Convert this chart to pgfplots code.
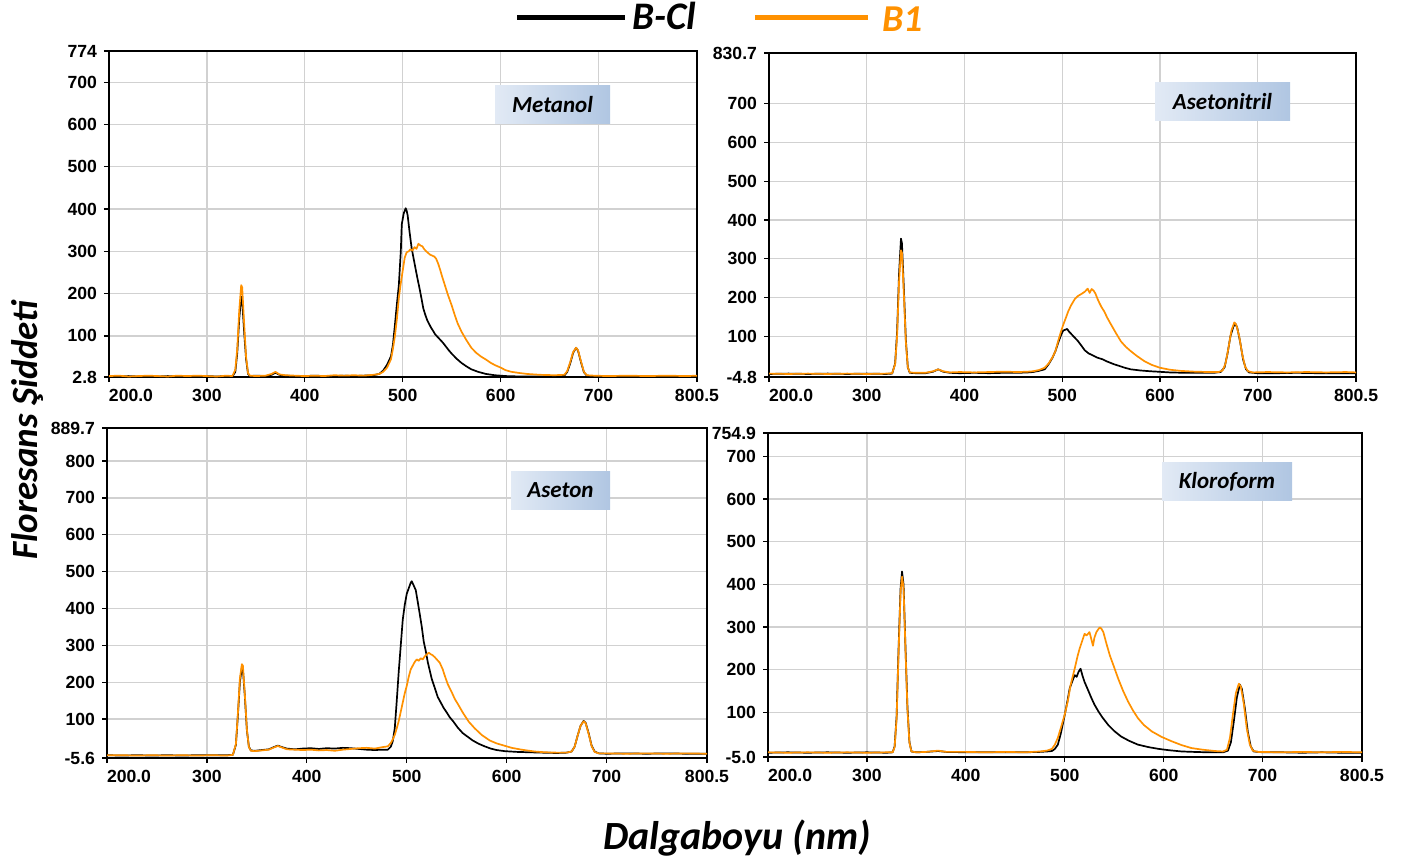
\documentclass[border=0pt]{standalone}
\usepackage{fontspec}
\setmainfont{Liberation Sans}
\newfontfamily\calfont{Carlito}
\usepackage{pgfplots}
\pgfplotsset{compat=1.18}

\definecolor{orng}{RGB}{255,145,0}
\definecolor{boxL}{RGB}{226,234,245}
\definecolor{boxR}{RGB}{176,198,226}

\pgfplotsset{
  panel/.style={
    scale only axis,
    xmin=200, xmax=800.5,
    xtick={200,300,400,500,600,700,800.5},
    xticklabels={\makebox[0pt][l]{200.0},300,400,500,600,700,800.5},
    grid=major, grid style={line width=0.6pt, black!18},
    axis line style={line width=0.9pt},
    tick align=outside, xtick pos=bottom, ytick pos=left,
    major tick length=2.5pt, tick style={black, line width=0.6pt},
    tick label style={font=\bfseries\fontsize{8.8}{10}\selectfont},
    every axis plot/.append style={line width=0.85pt, line join=round},
  },
}
\tikzset{lab/.style={left color=boxL, right color=boxR, inner sep=0pt,
  minimum height=19pt, font=\calfont\bfseries\itshape\fontsize{11.5}{13}\selectfont}}

\begin{document}
\begin{tikzpicture}
\path[use as bounding box] (0,0) rectangle (703pt,429pt);

% --- Metanol
\begin{axis}[panel, at={(54.5pt,240.5pt)}, width=294pt, height=163pt,
  ymin=2.8, ymax=774,
  ytick={2.8,100,200,300,400,500,600,700,774},
  yticklabels={2.8,100,200,300,400,500,600,700,774}]
\addplot[black] coordinates {(200,5)(210,4)(220,5)(230,4)(240,5)(250,4)(260,5)(270,4)(280,5)(290,4)(300,5)(310,4)(320,5)(326,4)(329,15)(331,60)(333,140)(335,193)(336,185)(338,110)(340,45)(342,10)(344,5)(350,6)(360,5)(366,8)(370,13)(374,8)(380,6)(390,5)(400,5)(410,6)(420,5)(430,5)(440,6)(450,5)(460,6)(470,7)(476,10)(480,18)(484,32)(488,52)(490,80)(492,126)(494,175)(496,220)(498,300)(499,364)(501,390)(503,402)(504,396)(505,385)(507,345)(509,309)(511,284)(513,260)(515,236)(517,214)(519,190)(521,165)(523,150)(525,137)(527,128)(529,119)(531,112)(533,104)(535,99)(537,94)(539,89)(541,84)(543,78)(545,72)(547,66)(550,58)(555,46)(560,36)(565,28)(570,21)(577,15)(585,10)(594,7)(605,5)(620,4)(640,4)(655,4)(665,6)(668,15)(671,35)(674,60)(677,72)(679,65)(682,38)(685,14)(688,6)(695,4)(710,4)(730,5)(750,4)(770,5)(790,4)(800.5,5)};
\addplot[orng] coordinates {(200,5)(210,6)(220,4)(230,5)(240,6)(250,5)(260,4)(270,6)(280,5)(290,6)(300,5)(310,4)(320,6)(326,5)(329,20)(331,70)(333,160)(335,220)(336,215)(338,130)(340,50)(342,12)(344,6)(350,5)(360,6)(366,10)(370,15)(374,9)(380,7)(390,6)(400,5)(410,6)(420,5)(430,7)(440,6)(450,7)(460,6)(470,8)(476,10)(480,15)(484,25)(488,45)(490,70)(492,100)(494,140)(496,190)(498,225)(500,255)(502,285)(504,298)(506,300)(508,305)(510,302)(512,310)(514,306)(516,318)(518,314)(520,312)(522,305)(524,300)(526,296)(528,292)(530,290)(532,288)(534,283)(536,272)(538,258)(540,242)(543,220)(546,198)(550,172)(553,150)(556,130)(560,110)(565,90)(570,72)(575,60)(580,51)(585,44)(590,36)(595,30)(600,25)(605,19)(611,15)(620,12)(627,10)(640,8)(655,7)(665,8)(668,17)(671,38)(674,62)(677,72)(679,66)(682,40)(685,15)(688,7)(695,6)(710,5)(730,6)(750,5)(770,6)(790,5)(800.5,6)};
\end{axis}

% --- Asetonitril
\begin{axis}[panel, at={(384.5pt,240.5pt)}, width=293.5pt, height=162pt,
  ymin=-4.8, ymax=830.7,
  ytick={-4.8,100,200,300,400,500,600,700,830.7},
  yticklabels={-4.8,100,200,300,400,500,600,700,830.7}]
\addplot[black] coordinates {(200,3)(220,4)(240,3)(260,4)(280,3)(300,4)(320,3)(326,4)(329,30)(331,110)(333,260)(335,352)(336,340)(338,220)(340,90)(342,20)(344,6)(350,5)(360,5)(368,9)(373,15)(378,9)(385,6)(395,5)(410,6)(425,5)(440,6)(455,6)(465,7)(470,8)(476,11)(482,15)(486,28)(490,45)(493,62)(496,85)(499,105)(501,115)(503,117)(505,119)(507,112)(510,104)(513,96)(516,88)(519,78)(523,64)(527,56)(532,50)(536,45)(541,41)(546,35)(550,31)(553,28)(558,24)(564,19)(570,15)(580,12)(590,10)(597,9)(610,7)(625,6)(640,6)(655,6)(662,8)(666,20)(669,55)(672,100)(675,125)(677,133)(679,122)(682,85)(685,40)(688,15)(691,7)(700,5)(720,5)(740,6)(760,5)(780,5)(800.5,5)};
\addplot[orng] coordinates {(200,4)(220,3)(240,4)(260,3)(280,4)(300,3)(320,4)(326,5)(329,28)(331,100)(333,240)(335,322)(336,315)(338,205)(340,85)(342,20)(344,7)(350,6)(360,6)(368,10)(373,15)(378,10)(385,7)(395,8)(410,7)(425,8)(440,9)(455,8)(465,9)(470,10)(476,13)(482,19)(486,30)(490,46)(493,62)(496,90)(499,115)(501,130)(504,150)(506,164)(509,180)(513,197)(516,204)(520,210)(523,215)(526,223)(528,212)(530,222)(532,218)(534,210)(536,197)(538,186)(540,176)(543,164)(546,148)(550,130)(555,108)(560,87)(565,73)(570,62)(576,50)(584,36)(592,26)(600,19)(610,14)(621,11)(635,9)(650,8)(660,8)(664,12)(667,30)(670,70)(673,115)(676,136)(678,130)(681,100)(684,55)(687,22)(690,10)(695,7)(710,8)(730,7)(750,8)(770,7)(790,8)(800.5,7)};
\end{axis}

% --- Aseton
\begin{axis}[panel, at={(53.5pt,50pt)}, width=300pt, height=165pt,
  ymin=-5.6, ymax=889.7,
  ytick={-5.6,100,200,300,400,500,600,700,800,889.7},
  yticklabels={-5.6,100,200,300,400,500,600,700,800,889.7}]
\addplot[black] coordinates {(200,2)(215,1)(230,2)(245,1)(260,2)(275,1)(290,2)(305,2)(320,2)(326,3)(329,30)(331,110)(333,200)(335,240)(336,236)(338,160)(340,70)(342,25)(344,15)(348,14)(355,16)(362,18)(367,24)(371,28)(375,24)(380,20)(388,18)(396,20)(404,21)(412,19)(420,21)(428,20)(436,22)(444,21)(452,19)(460,17)(468,16)(476,17)(481,17)(484,25)(486,40)(488,75)(490,150)(492,230)(494,300)(496,370)(498,410)(500,440)(502,455)(504,470)(505,474)(507,462)(509,450)(511,418)(513,385)(515,351)(517,310)(519,285)(521,255)(523,232)(525,209)(528,185)(531,160)(534,145)(537,130)(540,118)(543,105)(547,92)(551,77)(556,62)(561,52)(566,42)(572,33)(578,26)(584,20)(590,16)(598,13)(610,11)(622,10)(635,9)(650,8)(660,9)(665,12)(668,25)(671,55)(674,82)(677,95)(679,90)(682,62)(685,28)(688,12)(692,7)(700,6)(720,7)(740,6)(760,7)(780,6)(800.5,6)};
\addplot[orng] coordinates {(200,2)(215,2)(230,1)(245,2)(260,1)(275,2)(290,1)(305,2)(320,1)(326,3)(329,32)(331,115)(333,210)(335,249)(336,245)(338,165)(340,72)(342,24)(344,14)(348,13)(355,15)(362,17)(367,23)(371,27)(375,23)(380,18)(388,17)(396,16)(404,17)(412,15)(420,16)(428,14)(436,17)(444,19)(452,21)(460,22)(468,20)(476,24)(481,26)(484,35)(486,45)(488,57)(490,75)(492,95)(494,120)(496,145)(498,170)(500,190)(502,215)(504,235)(506,245)(508,255)(510,262)(512,258)(514,265)(516,262)(518,270)(520,275)(522,280)(524,276)(526,273)(528,268)(530,262)(533,253)(536,235)(538,218)(541,195)(545,173)(548,155)(552,137)(556,118)(562,93)(568,75)(575,57)(583,42)(590,34)(595,30)(605,22)(615,17)(628,12)(638,10)(650,9)(660,9)(665,12)(668,25)(671,55)(674,82)(677,94)(679,89)(682,60)(685,27)(688,11)(692,7)(700,7)(720,6)(740,7)(760,6)(780,7)(800.5,6)};
\end{axis}

% --- Kloroform
\begin{axis}[panel, at={(384pt,50.5pt)}, width=297pt, height=162pt,
  ymin=-5.0, ymax=754.9,
  ytick={-5,100,200,300,400,500,600,700,754.9},
  yticklabels={-5.0,100,200,300,400,500,600,700,754.9}]
\addplot[black] coordinates {(200,5)(220,6)(240,5)(260,6)(280,5)(300,6)(320,5)(326,6)(328,20)(330,90)(332,250)(334,390)(335.5,430)(337,400)(339,250)(341,110)(343,30)(345,8)(350,6)(360,7)(372,9)(380,7)(400,6)(420,6)(440,6)(460,6)(475,7)(482,8)(487,9)(490,14)(493,24)(496,50)(498,72)(500,94)(503,130)(505,156)(508,175)(510,187)(512,183)(514,195)(516,202)(518,185)(520,171)(523,155)(527,133)(530,118)(534,102)(538,88)(544,70)(550,56)(557,43)(565,33)(574,24)(585,18)(595,14)(605,11)(618,8)(630,7)(645,6)(660,6)(665,10)(668,30)(671,80)(674,135)(677,165)(679,155)(682,110)(685,55)(688,20)(691,8)(700,6)(720,6)(740,5)(760,6)(780,5)(800.5,5)};
\addplot[orng] coordinates {(200,6)(220,5)(240,6)(260,5)(280,6)(300,5)(320,6)(326,6)(328,18)(330,85)(332,240)(334,380)(335.5,418)(337,392)(339,245)(341,105)(343,28)(345,8)(350,6)(360,7)(372,10)(380,7)(400,7)(420,6)(440,7)(460,6)(475,8)(482,10)(487,14)(490,24)(493,40)(496,63)(500,95)(503,125)(506,165)(510,202)(513,232)(515,249)(518,270)(520,284)(522,280)(525,288)(527,270)(528.5,256)(530,275)(532,288)(534,295)(535.5,299)(537,296)(539,288)(542,262)(545.6,233)(550,205)(554,179)(559,150)(564,125)(569,104)(574,86)(580,70)(588,55)(598,42)(608,32)(618,23)(628,16)(640,12)(652,9)(660,8)(664,12)(667,40)(670,95)(673,145)(676,167)(678,160)(681,120)(684,62)(687,25)(690,10)(695,7)(720,6)(740,7)(760,6)(780,7)(800.5,6)};
\end{axis}

% panel labels
\node[lab, minimum width=57.5pt] at (276.25pt,376.5pt) {Metanol};
\node[lab, minimum width=67.5pt] at (611.25pt,378.25pt) {Asetonitril};
\node[lab, minimum width=49.5pt] at (280.25pt,184pt) {Aseton};
\node[lab, minimum width=65pt] at (613.5pt,188.25pt) {Kloroform};

% legend
\draw[black, line width=2.5pt] (258.5pt,420pt) -- (312.5pt,420pt);
\node[anchor=west, inner sep=0pt, font=\calfont\bfseries\itshape\fontsize{19.5}{21}\selectfont] at (316pt,421pt) {B-Cl};
\draw[orng, line width=2.5pt] (377.5pt,420pt) -- (434pt,420pt);
\node[anchor=west, inner sep=0pt, text=orng, font=\calfont\bfseries\itshape\fontsize{19}{21}\selectfont] at (441pt,419.5pt) {B1};

% axis titles
\node[rotate=90, font=\calfont\bfseries\itshape\fontsize{18.5}{20}\selectfont] at (14pt,214pt) {Floresans Şiddeti};
\node[font=\calfont\bfseries\itshape\fontsize{20}{22}\selectfont] at (368.5pt,10pt) {Dalgaboyu (nm)};
\end{tikzpicture}
\end{document}
